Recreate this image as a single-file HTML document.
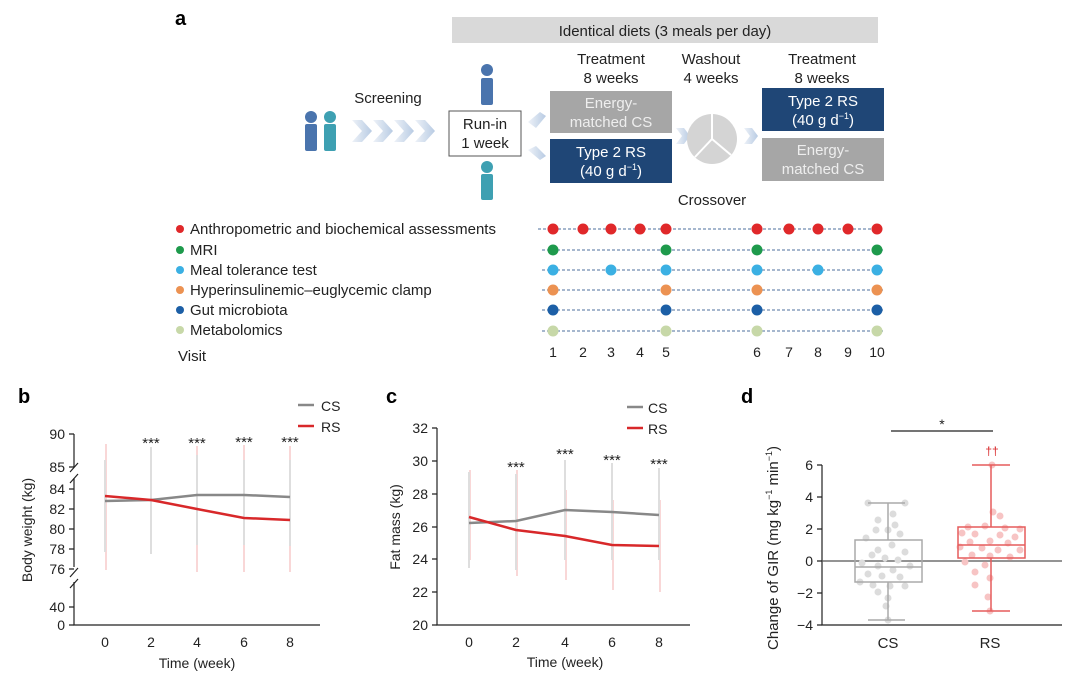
<!DOCTYPE html>
<html><head><meta charset="utf-8"><style>
html,body{margin:0;padding:0;background:#fff}
svg{display:block;font-family:"Liberation Sans",sans-serif}
</style></head><body>
<svg width="1080" height="685" viewBox="0 0 1080 685" xmlns="http://www.w3.org/2000/svg">
<defs>
<linearGradient id="chev" x1="0" x2="1"><stop offset="0" stop-color="#eef2f8"/><stop offset="1" stop-color="#b8cbe3"/></linearGradient>
</defs>
<!-- panel a -->
<text x="175" y="25" font-size="20" font-weight="bold">a</text>
<rect x="452" y="17" width="426" height="26" fill="#d9d9d9"/>
<text x="665" y="36" font-size="15" text-anchor="middle" fill="#222">Identical diets (3 meals per day)</text>
<g font-size="15" text-anchor="middle" fill="#222">
<text x="611" y="64">Treatment</text><text x="611" y="83">8 weeks</text>
<text x="711" y="64">Washout</text><text x="711" y="83">4 weeks</text>
<text x="822" y="64">Treatment</text><text x="822" y="83">8 weeks</text>
<text x="388" y="103">Screening</text>
<text x="712" y="205">Crossover</text>
</g>
<g fill="#4a74ad"><circle cx="311" cy="117" r="6"/><rect x="305" y="124" width="12" height="27" rx="2"/>
<circle cx="487" cy="70" r="6"/><rect x="481" y="78" width="12" height="27" rx="2"/></g>
<g fill="#3ea0b2"><circle cx="330" cy="117" r="6"/><rect x="324" y="124" width="12" height="27" rx="2"/>
<circle cx="487" cy="167" r="6"/><rect x="481" y="174" width="12" height="26" rx="2"/></g>
<g fill="url(#chev)">
<polygon points="352,120 362,120 372,131 362,142 352,142 362,131"/>
<polygon points="373,120 383,120 393,131 383,142 373,142 383,131"/>
<polygon points="394,120 404,120 414,131 404,142 394,142 404,131"/>
<polygon points="415,120 425,120 435,131 425,142 415,142 425,131"/>
<polygon points="528,122 540,112 546,116 536,128"/>
<polygon points="528,150 540,160 546,156 536,146"/>
<polygon points="676,128 684,128 690,136 684,144 676,144 682,136"/>
<polygon points="744,128 752,128 758,136 752,144 744,144 750,136"/>
</g>
<rect x="449" y="111" width="72" height="45" fill="#fff" stroke="#555" stroke-width="1"/>
<text x="485" y="129" font-size="15" text-anchor="middle" fill="#222">Run-in</text>
<text x="485" y="148" font-size="15" text-anchor="middle" fill="#222">1 week</text>
<rect x="550" y="91" width="122" height="42" fill="#a6a6a6"/>
<text x="611" y="108" font-size="15" text-anchor="middle" fill="#eee">Energy-</text>
<text x="611" y="127" font-size="15" text-anchor="middle" fill="#eee">matched CS</text>
<rect x="550" y="139" width="122" height="44" fill="#1f4676"/>
<text x="611" y="157" font-size="15" text-anchor="middle" fill="#fff">Type 2 RS</text>
<text x="611" y="176" font-size="15" text-anchor="middle" fill="#fff">(40 g d<tspan font-size="9" dy="-6">−1</tspan><tspan dy="6">)</tspan></text>
<rect x="762" y="88" width="122" height="43" fill="#1f4676"/>
<text x="823" y="106" font-size="15" text-anchor="middle" fill="#fff">Type 2 RS</text>
<text x="823" y="125" font-size="15" text-anchor="middle" fill="#fff">(40 g d<tspan font-size="9" dy="-6">−1</tspan><tspan dy="6">)</tspan></text>
<rect x="762" y="138" width="122" height="43" fill="#a6a6a6"/>
<text x="823" y="155" font-size="15" text-anchor="middle" fill="#eee">Energy-</text>
<text x="823" y="174" font-size="15" text-anchor="middle" fill="#eee">matched CS</text>
<circle cx="712" cy="139" r="25" fill="#d4d4d4"/>
<path d="M712,139 L712,114 M712,139 L731,155 M712,139 L695,157" stroke="#fff" stroke-width="2" fill="none"/>
<g font-size="15" fill="#222">
<text x="190" y="234">Anthropometric and biochemical assessments</text>
<text x="190" y="255">MRI</text>
<text x="190" y="275">Meal tolerance test</text>
<text x="190" y="295">Hyperinsulinemic–euglycemic clamp</text>
<text x="190" y="315">Gut microbiota</text>
<text x="190" y="335">Metabolomics</text>
<text x="178" y="361">Visit</text>
</g>
<g stroke="#4d6f9e" stroke-width="1" stroke-dasharray="3,2">
<line x1="538" y1="229" x2="883" y2="229"/><line x1="542" y1="250" x2="883" y2="250"/><line x1="542" y1="270" x2="883" y2="270"/>
<line x1="542" y1="290" x2="883" y2="290"/><line x1="542" y1="310" x2="883" y2="310"/><line x1="542" y1="331" x2="883" y2="331"/>
</g>
<g fill="#e0282a"><circle cx="180" cy="229" r="4"/>
<circle cx="553" cy="229" r="5.5"/><circle cx="583" cy="229" r="5.5"/><circle cx="611" cy="229" r="5.5"/><circle cx="640" cy="229" r="5.5"/><circle cx="666" cy="229" r="5.5"/><circle cx="757" cy="229" r="5.5"/><circle cx="789" cy="229" r="5.5"/><circle cx="818" cy="229" r="5.5"/><circle cx="848" cy="229" r="5.5"/><circle cx="877" cy="229" r="5.5"/></g>
<g fill="#1e9a4c"><circle cx="180" cy="250" r="4"/><circle cx="553" cy="250" r="5.5"/><circle cx="666" cy="250" r="5.5"/><circle cx="757" cy="250" r="5.5"/><circle cx="877" cy="250" r="5.5"/></g>
<g fill="#3bb0e3"><circle cx="180" cy="270" r="4"/><circle cx="553" cy="270" r="5.5"/><circle cx="611" cy="270" r="5.5"/><circle cx="666" cy="270" r="5.5"/><circle cx="757" cy="270" r="5.5"/><circle cx="818" cy="270" r="5.5"/><circle cx="877" cy="270" r="5.5"/></g>
<g fill="#ec9252"><circle cx="180" cy="290" r="4"/><circle cx="553" cy="290" r="5.5"/><circle cx="666" cy="290" r="5.5"/><circle cx="757" cy="290" r="5.5"/><circle cx="877" cy="290" r="5.5"/></g>
<g fill="#1c5fa6"><circle cx="180" cy="310" r="4"/><circle cx="553" cy="310" r="5.5"/><circle cx="666" cy="310" r="5.5"/><circle cx="757" cy="310" r="5.5"/><circle cx="877" cy="310" r="5.5"/></g>
<g fill="#c7d8a8"><circle cx="180" cy="330" r="4"/><circle cx="553" cy="331" r="5.5"/><circle cx="666" cy="331" r="5.5"/><circle cx="757" cy="331" r="5.5"/><circle cx="877" cy="331" r="5.5"/></g>
<g font-size="14" fill="#222" text-anchor="middle">
<text x="553" y="357">1</text><text x="583" y="357">2</text><text x="611" y="357">3</text><text x="640" y="357">4</text><text x="666" y="357">5</text><text x="757" y="357">6</text><text x="789" y="357">7</text><text x="818" y="357">8</text><text x="848" y="357">9</text><text x="877" y="357">10</text>
</g>

<!-- panel b -->
<text x="18" y="403" font-size="20" font-weight="bold">b</text>
<g stroke="#222" stroke-width="1.2" fill="none">
<path d="M74,434 V467 M74,478 V567 M74,582 V625 H320"/>
<path d="M70,472 L78,463 M70,483 L78,474 M70,577 L78,568 M70,588 L78,579"/>
<path d="M69,434 H74 M69,467 H74 M69,489 H74 M69,509 H74 M69,529 H74 M69,549 H74 M69,569 H74 M69,607 H74 M69,625 H74"/>
</g>
<g font-size="14" fill="#222" text-anchor="end">
<text x="65" y="439">90</text><text x="65" y="472">85</text><text x="65" y="494">84</text><text x="65" y="514">82</text><text x="65" y="534">80</text><text x="65" y="554">78</text><text x="65" y="574">76</text><text x="65" y="612">40</text><text x="65" y="630">0</text>
</g>
<g font-size="14" fill="#222" text-anchor="middle">
<text x="105" y="647">0</text><text x="151" y="647">2</text><text x="197" y="647">4</text><text x="244" y="647">6</text><text x="290" y="647">8</text>
<text x="197" y="668">Time (week)</text>
</g>
<text transform="translate(32,530) rotate(-90)" font-size="14" fill="#222" text-anchor="middle">Body weight (kg)</text>
<g stroke="#f5bcbc" stroke-width="1.2"><line x1="106" y1="444" x2="106" y2="570"/><line x1="197" y1="446" x2="197" y2="572"/><line x1="244" y1="445" x2="244" y2="572"/><line x1="290" y1="446" x2="290" y2="572"/></g>
<g stroke="#dedede" stroke-width="2"><line x1="105" y1="460" x2="105" y2="552"/><line x1="151" y1="447" x2="151" y2="554"/><line x1="197" y1="455" x2="197" y2="545"/><line x1="244" y1="460" x2="244" y2="545"/><line x1="290" y1="460" x2="290" y2="546"/></g>
<polyline points="105,501 151,500 197,495 244,495 290,497" fill="none" stroke="#888" stroke-width="2.5"/>
<polyline points="105,496 151,500 197,509 244,518 290,520" fill="none" stroke="#d8282a" stroke-width="2.5"/>
<g font-size="15" fill="#222" text-anchor="middle"><text x="151" y="448">***</text><text x="197" y="448">***</text><text x="244" y="447">***</text><text x="290" y="447">***</text></g>
<line x1="298" y1="405" x2="314" y2="405" stroke="#888" stroke-width="2.5"/><text x="321" y="411" font-size="14" fill="#222">CS</text>
<line x1="298" y1="426" x2="314" y2="426" stroke="#d8282a" stroke-width="2.5"/><text x="321" y="432" font-size="14" fill="#222">RS</text>

<!-- panel c -->
<text x="386" y="403" font-size="20" font-weight="bold">c</text>
<g stroke="#222" stroke-width="1.2" fill="none">
<path d="M437,428 V625 H690"/>
<path d="M432,428 H437 M432,461 H437 M432,494 H437 M432,527 H437 M432,559 H437 M432,592 H437 M432,625 H437"/>
</g>
<g font-size="14" fill="#222" text-anchor="end">
<text x="428" y="433">32</text><text x="428" y="466">30</text><text x="428" y="499">28</text><text x="428" y="532">26</text><text x="428" y="564">24</text><text x="428" y="597">22</text><text x="428" y="630">20</text>
</g>
<g font-size="14" fill="#222" text-anchor="middle">
<text x="469" y="647">0</text><text x="516" y="647">2</text><text x="565" y="647">4</text><text x="612" y="647">6</text><text x="659" y="647">8</text>
<text x="565" y="667">Time (week)</text>
</g>
<text transform="translate(400,527) rotate(-90)" font-size="14" fill="#222" text-anchor="middle">Fat mass (kg)</text>
<g stroke="#f5bcbc" stroke-width="1.2"><line x1="470" y1="470" x2="470" y2="560"/><line x1="517" y1="470" x2="517" y2="576"/><line x1="566" y1="490" x2="566" y2="580"/><line x1="613" y1="500" x2="613" y2="590"/><line x1="660" y1="500" x2="660" y2="592"/></g>
<g stroke="#dedede" stroke-width="2"><line x1="469" y1="472" x2="469" y2="568"/><line x1="516" y1="474" x2="516" y2="570"/><line x1="565" y1="460" x2="565" y2="560"/><line x1="612" y1="463" x2="612" y2="560"/><line x1="659" y1="468" x2="659" y2="560"/></g>
<polyline points="469,523 516,521 565,510 612,512 659,515" fill="none" stroke="#888" stroke-width="2.5"/>
<polyline points="469,517 516,530 565,536 612,545 659,546" fill="none" stroke="#d8282a" stroke-width="2.5"/>
<g font-size="15" fill="#222" text-anchor="middle"><text x="516" y="472">***</text><text x="565" y="459">***</text><text x="612" y="465">***</text><text x="659" y="469">***</text></g>
<line x1="627" y1="407" x2="643" y2="407" stroke="#888" stroke-width="2.5"/><text x="648" y="413" font-size="14" fill="#222">CS</text>
<line x1="627" y1="428" x2="643" y2="428" stroke="#d8282a" stroke-width="2.5"/><text x="648" y="434" font-size="14" fill="#222">RS</text>

<!-- panel d -->
<text x="741" y="403" font-size="20" font-weight="bold">d</text>
<line x1="891" y1="431" x2="993" y2="431" stroke="#222" stroke-width="1.2"/>
<text x="942" y="429" font-size="14" text-anchor="middle" fill="#222">*</text>
<text x="992" y="455" font-size="12" text-anchor="middle" fill="#d8282a">††</text>
<g stroke="#222" stroke-width="1.2" fill="none">
<path d="M822,465 V625 H1062"/>
<path d="M817,465 H822 M817,497 H822 M817,529 H822 M817,561 H822 M817,593 H822 M817,625 H822"/>
</g>
<line x1="822" y1="561" x2="1062" y2="561" stroke="#555" stroke-width="1.2"/>
<g font-size="14" fill="#222" text-anchor="end">
<text x="813" y="470">6</text><text x="813" y="502">4</text><text x="813" y="534">2</text><text x="813" y="566">0</text><text x="813" y="598">−2</text><text x="813" y="630">−4</text>
</g>
<g font-size="15" fill="#222" text-anchor="middle"><text x="888" y="648">CS</text><text x="990" y="648">RS</text></g>
<text transform="translate(778,548) rotate(-90)" font-size="15" fill="#222" text-anchor="middle">Change of GIR (mg kg<tspan font-size="9" dy="-6">−1</tspan><tspan dy="6"> min</tspan><tspan font-size="9" dy="-6">−1</tspan><tspan dy="6">)</tspan></text>
<g fill="#dcdcdc">
<circle cx="868" cy="503" r="3.5"/><circle cx="905" cy="503" r="3.5"/><circle cx="893" cy="514" r="3.5"/><circle cx="878" cy="520" r="3.5"/><circle cx="895" cy="525" r="3.5"/>
<circle cx="876" cy="530" r="3.5"/><circle cx="888" cy="530" r="3.5"/><circle cx="900" cy="534" r="3.5"/><circle cx="866" cy="538" r="3.5"/><circle cx="892" cy="545" r="3.5"/>
<circle cx="878" cy="550" r="3.5"/><circle cx="905" cy="552" r="3.5"/><circle cx="872" cy="555" r="3.5"/><circle cx="885" cy="558" r="3.5"/><circle cx="898" cy="560" r="3.5"/>
<circle cx="862" cy="563" r="3.5"/><circle cx="878" cy="566" r="3.5"/><circle cx="910" cy="566" r="3.5"/><circle cx="893" cy="570" r="3.5"/><circle cx="868" cy="574" r="3.5"/>
<circle cx="882" cy="576" r="3.5"/><circle cx="900" cy="577" r="3.5"/><circle cx="860" cy="582" r="3.5"/><circle cx="873" cy="585" r="3.5"/><circle cx="890" cy="586" r="3.5"/>
<circle cx="905" cy="586" r="3.5"/><circle cx="878" cy="592" r="3.5"/><circle cx="888" cy="598" r="3.5"/><circle cx="886" cy="606" r="3.5"/><circle cx="888" cy="620" r="3.5"/>
</g>
<g fill="none" stroke="#aaa" stroke-width="1.5">
<rect x="855" y="540" width="67" height="42"/><line x1="855" y1="567" x2="922" y2="567"/>
<path d="M888,540 V503 M868,503 H905 M888,582 V620 M868,620 H905"/>
</g>
<g fill="#f7c4c4">
<circle cx="992" cy="465" r="3.5"/><circle cx="993" cy="512" r="3.5"/><circle cx="1000" cy="516" r="3.5"/><circle cx="968" cy="527" r="3.5"/><circle cx="985" cy="526" r="3.5"/>
<circle cx="1005" cy="528" r="3.5"/><circle cx="1020" cy="529" r="3.5"/><circle cx="962" cy="533" r="3.5"/><circle cx="975" cy="534" r="3.5"/><circle cx="1000" cy="535" r="3.5"/>
<circle cx="1015" cy="537" r="3.5"/><circle cx="970" cy="542" r="3.5"/><circle cx="990" cy="541" r="3.5"/><circle cx="1008" cy="543" r="3.5"/><circle cx="960" cy="547" r="3.5"/>
<circle cx="982" cy="548" r="3.5"/><circle cx="998" cy="550" r="3.5"/><circle cx="1020" cy="550" r="3.5"/><circle cx="972" cy="555" r="3.5"/><circle cx="990" cy="556" r="3.5"/>
<circle cx="1010" cy="557" r="3.5"/><circle cx="965" cy="562" r="3.5"/><circle cx="985" cy="565" r="3.5"/><circle cx="975" cy="572" r="3.5"/><circle cx="990" cy="578" r="3.5"/>
<circle cx="975" cy="585" r="3.5"/><circle cx="988" cy="597" r="3.5"/><circle cx="990" cy="611" r="3.5"/>
</g>
<g fill="none" stroke="#e55c5c" stroke-width="1.5">
<rect x="958" y="527" width="67" height="31"/><line x1="958" y1="545" x2="1025" y2="545"/>
<path d="M991,527 V465 M972,465 H1010 M991,558 V611 M972,611 H1010"/>
</g>
</svg>
</body></html>
